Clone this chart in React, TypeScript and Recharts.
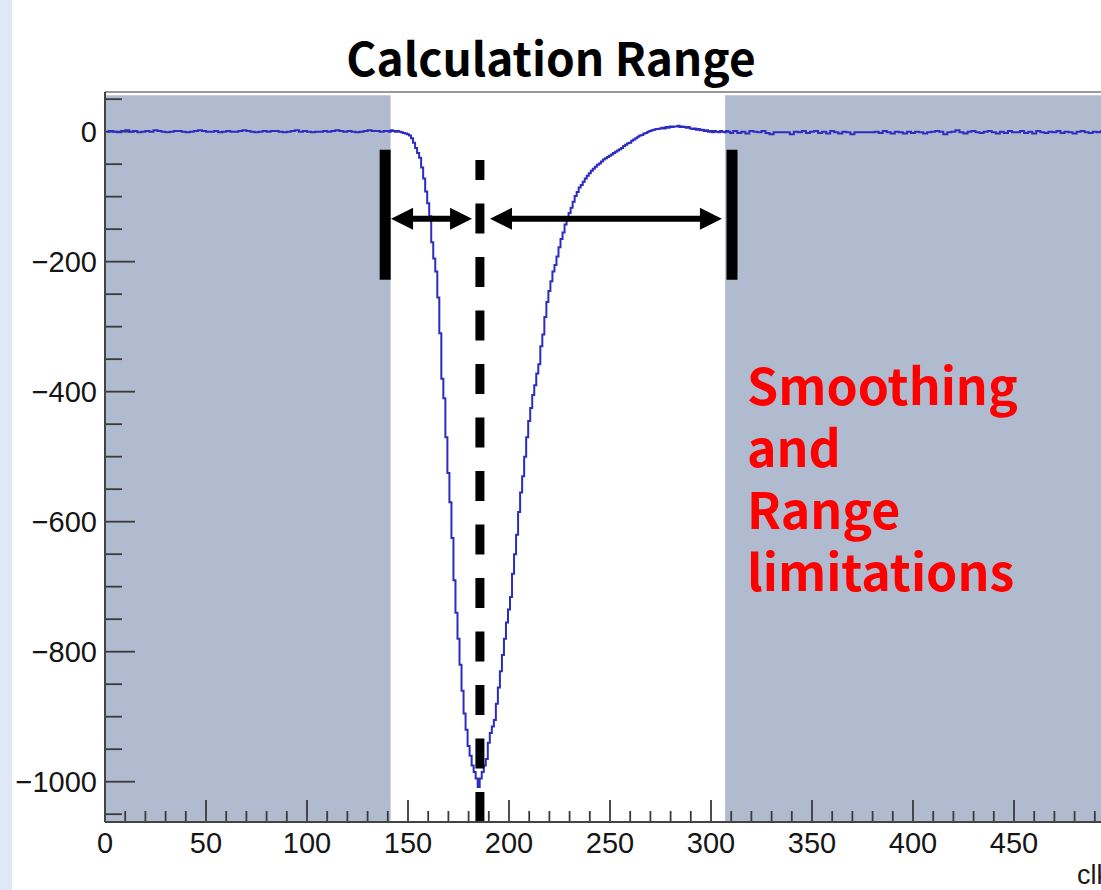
import React from 'react';
import { LineChart, Line, XAxis, YAxis, ReferenceArea, ReferenceLine } from 'recharts';

// baseline noise left of the pulse, bins 0..138 (step 2)
const leftBaseline = [
  0, 1, 0, -1, 1, 2, 0, 1, -1, 0,
  1, 0, 2, 1, 0, -1, 0, 1, 1, 0,
  -1, 0, 1, 2, 1, 0, 0, 1, -1, 0,
  1, 0, 0, 1, 2, 1, 0, -1, 0, 1,
  0, 1, 1, 0, -1, 0, 1, 2, 0, 1,
  0, -1, 0, 0, 1, 0, 1, 2, 1, 0,
  1, 0, -1, 0, 1, 2, 1, 1, 0, 1,
];

// pulse, bins 140..310 (step 1)
const pulseValues = [
  1, 0, 2, 1, 0, 1, 0, -1, -2, -3,
  -4, -6, -10, -17, -25, -33, -40, -55, -72, -92,
  -110, -130, -170, -195, -215, -255, -310, -380, -410, -470,
  -525, -570, -625, -690, -740, -780, -820, -860, -895, -920,
  -945, -960, -975, -985, -995, -1008, -995, -985, -975, -965,
  -940, -925, -915, -905, -880, -855, -830, -805, -780, -755,
  -735, -716, -680, -650, -620, -585, -555, -530, -500, -470,
  -445, -425, -405, -390, -372, -358, -330, -312, -285, -262,
  -245, -230, -215, -205, -192, -178, -165, -155, -143, -133,
  -125, -117, -108, -99, -93, -86, -82, -77, -72, -68,
  -64, -60, -57, -54, -51, -49, -46, -43, -41, -39,
  -37, -35, -33, -31, -29, -27, -25, -22, -20, -18,
  -17, -14, -12, -10, -8, -6, -5, -3, -2, 0,
  1, 2, 3, 4, 4, 5, 6, 5, 7, 6,
  8, 7, 8, 8, 9, 7, 8, 7, 6, 7,
  5, 4, 5, 3, 4, 2, 3, 1, 2, 0,
  1, -1, 1, 0, -1, 1, 0, -1, 1, 0, -2,
];

// baseline noise right of the pulse, bins 312..500 (step 2)
const rightBaseline = [
  1, -2, 0, -3, 1, 0, -1, 1, -2, -4,
  -1, -1, -1, -1, -4, 0, -1, 1, -2, 0,
  1, -2, 0, -3, 1, -1, -3, 0, -1, -4,
  -1, -1, -1, -1, -1, 0, -2, 1, -1, -3,
  0, -1, -3, 0, -2, 0, -1, -3, -1, 0,
  1, 0, -4, -1, 0, 2, -1, -3, 0, 1,
  -1, -2, 0, 1, -1, -3, 0, -2, 1, -1,
  -1, 1, -2, 0, -3, 1, -1, -2, 0, -1,
  1, -2, 0, -1, -3, 0, 1, -1, -2, 0,
  -1, 1, -2, 0, -1,
];

const xTicks = [0, 50, 100, 150, 200, 250, 300, 350, 400, 450];
const yTicks = [-1000, -800, -600, -400, -200, 0];
const redLines = ['Smoothing', 'and', 'Range', 'limitations'];

// calculation window / peak markers (x in clk units, y in ADC)
const windowStart = 138.7;
const windowEnd = 310.4;
const peakPos = 185.6;
const shadeLeftEnd = 141.4;
const shadeRightStart = 307;

const X_MIN = 0;
const X_MAX = 500;
const Y_MIN = -1062;
const Y_MAX = 61;

const data = [
  ...leftBaseline.map((v, i) => ({ x: i * 2 + 1, y: v })),
  ...pulseValues.map((v, i) => ({ x: 140 + i, y: v })),
  ...rightBaseline.map((v, i) => ({ x: 312 + i * 2, y: v })),
];

const xMinor: number[] = [];
for (let v = 0; v <= 500; v += 10) xMinor.push(v);
const yMinor: number[] = [];
for (let v = -1050; v <= 50; v += 50) yMinor.push(v);

const TICK_COLOR = '#3a3a3a';
const AXIS_FONT = 'Liberation Sans, Arial, sans-serif';
const TEXT_FONT = "'Noto Sans CJK JP', 'Noto Sans', sans-serif";

const XTickMark = (len: number) => (p: any) => {
  const bottom = Math.max(p.y1, p.y2);
  return <line x1={p.x1} x2={p.x1} y1={bottom} y2={bottom - len} stroke={TICK_COLOR} strokeWidth={1.8} />;
};

const YTickMark = (len: number) => (p: any) => {
  const left = Math.min(p.x1, p.x2);
  return <line x1={left} x2={left + len} y1={p.y1} y2={p.y1} stroke={TICK_COLOR} strokeWidth={1.8} />;
};

const DoubleArrow = (p: any) => {
  const xa = Math.min(p.x1, p.x2);
  const xb = Math.max(p.x1, p.x2);
  const y = p.y1;
  const head = 22;
  const half = 11;
  return (
    <g>
      <line x1={xa + head - 2} x2={xb - head + 2} y1={y} y2={y} stroke="#000" strokeWidth={6} />
      <polygon points={`${xa},${y} ${xa + head},${y - half} ${xa + head},${y + half}`} fill="#000" />
      <polygon points={`${xb},${y} ${xb - head},${y - half} ${xb - head},${y + half}`} fill="#000" />
    </g>
  );
};

const fmt = (v: number) => (v < 0 ? '\u2212' + Math.abs(v) : String(v));

export default function App() {
  return (
    <div style={{ position: 'absolute', left: 0, top: 0, width: 1101, height: 890, overflow: 'hidden', background: '#fff' }}>
      <div style={{ position: 'absolute', left: 0, top: 0, width: 12, height: 890, background: '#dfe9f5' }} />
      <div style={{ position: 'absolute', left: 0, top: 0 }}>
        <LineChart width={1120} height={890} data={data} margin={{ top: 92, right: 5, bottom: 8, left: 5 }}>
          <ReferenceArea x1={X_MIN} x2={shadeLeftEnd} y1={Y_MIN} y2={56} fill="#b1bbcf" fillOpacity={1} stroke="none" />
          <ReferenceArea x1={shadeRightStart} x2={X_MAX} y1={Y_MIN} y2={56} fill="#b1bbcf" fillOpacity={1} stroke="none" />
          <XAxis
            type="number"
            dataKey="x"
            domain={[X_MIN, X_MAX]}
            ticks={xTicks}
            interval={0}
            height={60}
            tickLine={false}
            tickSize={0}
            tickMargin={10}
            axisLine={{ stroke: '#444', strokeWidth: 2 }}
            tick={{ fill: '#151515', fontSize: 29, fontFamily: AXIS_FONT }}
            allowDataOverflow
          />
          <YAxis
            type="number"
            domain={[Y_MIN, Y_MAX]}
            ticks={yTicks}
            interval={0}
            width={100}
            tickLine={false}
            tickSize={0}
            tickMargin={8}
            tickFormatter={fmt}
            axisLine={{ stroke: '#444', strokeWidth: 2 }}
            tick={{ fill: '#151515', fontSize: 29, fontFamily: AXIS_FONT }}
            allowDataOverflow
          />
          <ReferenceLine y={Y_MAX} stroke="#777" strokeWidth={1.5} />
          {xMinor.map((v) => (
            <ReferenceLine key={'xt' + v} x={v} shape={XTickMark(v % 50 === 0 ? 22 : 11)} />
          ))}
          {yMinor.map((v) => (
            <ReferenceLine key={'yt' + v} y={v} shape={YTickMark(v % 200 === 0 ? 30 : 17)} />
          ))}
          <Line
            type="step"
            dataKey="y"
            stroke="#2c2cc0"
            strokeWidth={2}
            dot={false}
            activeDot={false}
            isAnimationActive={false}
          />
          <ReferenceLine
            segment={[{ x: windowStart, y: -28 }, { x: windowStart, y: -228 }]}
            stroke="#000"
            strokeWidth={11}
          />
          <ReferenceLine
            segment={[{ x: windowEnd, y: -28 }, { x: windowEnd, y: -228 }]}
            stroke="#000"
            strokeWidth={11}
          />
          <ReferenceLine
            segment={[{ x: peakPos, y: -43.6 }, { x: peakPos, y: Y_MIN }]}
            stroke="#000"
            strokeWidth={9}
            strokeDasharray="30 23.5"
            strokeDashoffset={10}
          />
          <ReferenceLine segment={[{ x: 141.6, y: -134 }, { x: 181.7, y: -134 }]} shape={DoubleArrow} />
          <ReferenceLine segment={[{ x: 190.6, y: -134 }, { x: 305.4, y: -134 }]} shape={DoubleArrow} />
        </LineChart>
      </div>
      <svg width={1101} height={890} style={{ position: 'absolute', left: 0, top: 0, pointerEvents: 'none' }}>
        <text x={551} y={76} textAnchor="middle" fontSize={46} fontWeight={700} fontFamily={TEXT_FONT} fill="#000">
          Calculation Range
        </text>
        {redLines.map((t, i) => (
          <text key={t} x={747} y={405 + i * 62} fontSize={50} fontWeight={700} fontFamily={TEXT_FONT} fill="#ff0000">
            {t}
          </text>
        ))}
        <text x={1077} y={884} fontSize={27} fontFamily={AXIS_FONT} fill="#1a1a1a">
          clk
        </text>
      </svg>
    </div>
  );
}
